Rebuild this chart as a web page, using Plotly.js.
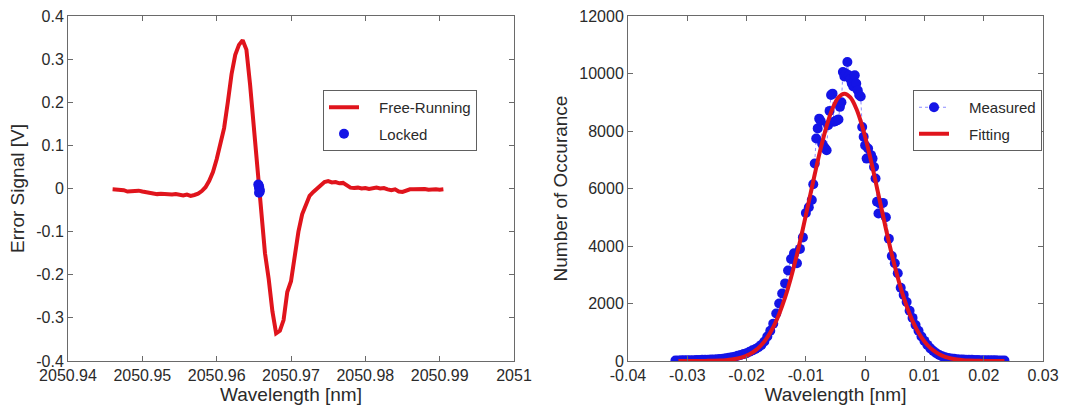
<!DOCTYPE html>
<html><head><meta charset="utf-8">
<script src="https://cdn.plot.ly/plotly-3.0.1.min.js"></script>
<style>html,body{margin:0;padding:0;background:#fff}#c{width:1091px;height:413px}</style>
</head><body><div id="c"></div>
<script>
// Left panel: error signal
const freeX = [2050.9460,2050.9465,2050.9470,2050.9475,2050.9480,2050.9485,2050.9490,2050.9495,2050.9500,2050.9505,2050.9510,2050.9515,2050.9520,2050.9525,2050.9530,2050.9535,2050.9540,2050.9545,2050.9550,2050.9555,2050.9560,2050.9565,2050.9570,2050.9575,2050.9580,2050.9585,2050.9590,2050.9595,2050.9600,2050.9605,2050.9610,2050.9615,2050.9620,2050.9625,2050.9630,2050.9635,2050.9640,2050.9645,2050.9650,2050.9655,2050.9660,2050.9665,2050.9670,2050.9675,2050.9680,2050.9685,2050.9690,2050.9695,2050.9700,2050.9705,2050.9710,2050.9715,2050.9720,2050.9725,2050.9730,2050.9735,2050.9740,2050.9745,2050.9750,2050.9755,2050.9760,2050.9765,2050.9770,2050.9775,2050.9780,2050.9785,2050.9790,2050.9795,2050.9800,2050.9805,2050.9810,2050.9815,2050.9820,2050.9825,2050.9830,2050.9835,2050.9840,2050.9845,2050.9850,2050.9855,2050.9860,2050.9865,2050.9870,2050.9875,2050.9880,2050.9885,2050.9890,2050.9895,2050.9900,2050.9905];
const freeY = [-0.002,-0.002,-0.004,-0.004,-0.007,-0.006,-0.006,-0.005,-0.007,-0.009,-0.010,-0.012,-0.013,-0.012,-0.013,-0.013,-0.014,-0.013,-0.015,-0.016,-0.014,-0.017,-0.015,-0.012,-0.006,0.003,0.018,0.038,0.068,0.100,0.140,0.200,0.265,0.310,0.333,0.344,0.322,0.240,0.140,0.030,-0.060,-0.150,-0.210,-0.285,-0.336,-0.330,-0.305,-0.240,-0.215,-0.150,-0.100,-0.060,-0.035,-0.017,-0.008,0.000,0.008,0.015,0.017,0.014,0.015,0.012,0.013,0.008,0.002,0.001,0.002,0.000,0.001,-0.001,0.001,0.002,0.000,0.001,-0.002,-0.004,-0.002,-0.007,-0.008,-0.005,-0.002,-0.002,-0.001,-0.002,-0.001,-0.003,-0.002,-0.002,-0.003,-0.002];
const lockedX = [2050.9656,2050.9657,2050.9657,2050.9658,2050.9658,2050.9657];
const lockedY = [0.009,0.005,0.001,-0.003,-0.007,-0.010];

// Right panel: histogram of wavelength
const measX = [-0.0320,-0.0315,-0.0310,-0.0305,-0.0300,-0.0295,-0.0290,-0.0285,-0.0280,-0.0275,-0.0270,-0.0265,-0.0260,-0.0255,-0.0250,-0.0245,-0.0240,-0.0235,-0.0230,-0.0225,-0.0220,-0.0215,-0.0210,-0.0205,-0.0200,-0.0195,-0.0190,-0.0185,-0.0180,-0.0175,-0.0170,-0.0165,-0.0160,-0.0155,-0.0150,-0.0145,-0.0140,-0.0135,-0.0130,-0.0125,-0.0120,-0.0115,-0.0110,-0.0105,-0.0100,-0.0095,
-0.00900,-0.00875,-0.00850,-0.00825,-0.00800,-0.00775,-0.00750,-0.00725,-0.00700,-0.00675,-0.00650,-0.00625,-0.00600,-0.00575,-0.00550,-0.00525,-0.00500,-0.00475,-0.00450,-0.00425,-0.00400,-0.00375,-0.00350,-0.00325,-0.00300,-0.00275,-0.00250,-0.00225,-0.00200,-0.00175,-0.00150,-0.00125,-0.00100,-0.00075,-0.00050,-0.00025,0.00000,0.00025,0.00050,0.00075,0.00100,0.00125,0.00150,0.00175,0.00200,0.00225,0.00250,
0.0030,0.0035,0.0040,0.0045,0.0050,0.0055,0.0060,0.0065,0.0070,0.0075,0.0080,0.0085,0.0090,0.0095,0.0100,0.0105,0.0110,0.0115,0.0120,0.0125,0.0130,0.0135,0.0140,0.0145,0.0150,0.0155,0.0160,0.0165,0.0170,0.0175,0.0180,0.0185,0.0190,0.0195,0.0200,0.0205,0.0210,0.0215,0.0220,0.0225,0.0230,0.0235];
const measY = [20,20,25,25,30,30,30,35,35,40,40,45,50,55,60,70,80,95,110,130,150,180,210,240,270,320,370,420,480,560,680,850,1050,1300,1650,2000,2350,2700,3150,3550,3750,3400,3900,4300,5150,5350,
5600,6150,6870,7740,8090,8430,8350,7560,7450,7400,7330,8200,8700,9250,9300,8320,8350,8370,8400,8840,9000,10050,9900,10000,10400,9940,9800,9650,9550,9940,9650,9420,9250,9200,8140,7800,7500,7040,7390,7050,7160,7040,6750,6350,5540,5130,5480,
5500,5000,4250,3650,3400,3050,2550,2300,2050,1750,1500,1250,1050,850,700,560,440,350,270,210,165,130,105,90,75,65,55,50,45,40,40,35,35,30,30,30,25,25,25,20,20,20];
const fitX = [-0.0315,-0.0305,-0.0295,-0.0285,-0.0275,-0.0265,-0.0255,-0.0245,-0.0235,-0.0225,-0.0215,-0.0205,-0.0195,-0.0185,-0.0175,-0.0165,-0.0155,-0.0145,-0.0135,-0.0125,-0.0115,-0.0105,-0.0095,-0.0085,-0.0075,-0.0065,-0.0055,-0.0045,-0.0035,-0.0025,-0.0015,-0.0005,0.0005,0.0015,0.0025,0.0035,0.0045,0.0055,0.0065,0.0075,0.0085,0.0095,0.0105,0.0115,0.0125,0.0135,0.0145,0.0155,0.0165,0.0175,0.0185,0.0195,0.0205,0.0215,0.0225,0.0235];
const fitY = [0,0,0,0,2,5,9,17,30,52,89,146,235,367,557,821,1176,1636,2211,2905,3709,4601,5546,6494,7391,8172,8781,9167,9300,9167,8781,8172,7391,6494,5546,4601,3709,2905,2211,1636,1176,821,557,367,235,146,89,52,30,17,9,5,2,0,0,0];

const leftXTicks = [2050.94,2050.95,2050.96,2050.97,2050.98,2050.99,2051];
const leftXLabels = ['2050.94','2050.95','2050.96','2050.97','2050.98','2050.99','2051'];
const leftYTicks = [-0.4,-0.3,-0.2,-0.1,0,0.1,0.2,0.3,0.4];
const leftYLabels = ['-0.4','-0.3','-0.2','-0.1','0','0.1','0.2','0.3','0.4'];
const rightXTicks = [-0.04,-0.03,-0.02,-0.01,0,0.01,0.02,0.03];
const rightXLabels = ['-0.04','-0.03','-0.02','-0.01','0','0.01','0.02','0.03'];
const rightYTicks = [0,2000,4000,6000,8000,10000,12000];
const rightYLabels = ['0','2000','4000','6000','8000','10000','12000'];

const RED = '#e0141c', BLUE = '#1414e6';
const FONT = 'Liberation Sans, Arial, sans-serif';
const txt = '#2a2a2a';
const SP = '\u2002\u2002';

const traces = [
  {x: freeX, y: freeY, type:'scatter', mode:'lines', name:SP+'Free-Running', legendgroup:'a',
   line:{color:RED, width:4}, xaxis:'x', yaxis:'y', legend:'legend'},
  {x: lockedX, y: lockedY, type:'scatter', mode:'markers', name:SP+'Locked', legendgroup:'b',
   marker:{color:BLUE, size:10}, xaxis:'x', yaxis:'y', legend:'legend'},
  {x: measX, y: measY, type:'scatter', mode:'lines+markers', name:SP+'Measured', legendgroup:'c',
   line:{color:'rgba(90,90,255,0.7)', width:1, dash:'dot'},
   marker:{color:BLUE, size:10}, xaxis:'x2', yaxis:'y2', legend:'legend2'},
  {x: fitX, y: fitY, type:'scatter', mode:'lines', name:SP+'Fitting', legendgroup:'d', line:{color:RED, width:4, shape:'spline'},
   xaxis:'x2', yaxis:'y2', legend:'legend2'}
];

function ax(extra){
  return Object.assign({
    showgrid:false, zeroline:false, showline:true, linecolor:'#6a6a6a', linewidth:1,
    mirror:'ticks', ticks:'inside', ticklen:5, tickcolor:'#6a6a6a',
    tickfont:{family:FONT, size:16, color:txt}, tickmode:'array'
  }, extra);
}
const titleFont = {family:FONT, size:19, color:txt};

const legendBase = {
  bgcolor:'#ffffff', bordercolor:'#606060', borderwidth:1,
  font:{family:FONT, size:15, color:txt}, xanchor:'left', yanchor:'top',
  itemwidth:30, traceorder:'grouped', tracegroupgap:4
};

const layout = {
  width:1091, height:413, paper_bgcolor:'#fff', plot_bgcolor:'#fff',
  margin:{l:0, r:0, t:16, b:52},
  showlegend:true,
  xaxis: ax({domain:[68/1091, 514/1091], range:[2050.94, 2051], tickvals:leftXTicks, ticktext:leftXLabels,
    title:{text:'Wavelength [nm]', font:titleFont, standoff:4}, anchor:'y'}),
  yaxis: ax({domain:[0,1], range:[-0.4, 0.4], tickvals:leftYTicks, ticktext:leftYLabels,
    title:{text:'Error Signal [V]', font:titleFont, standoff:6}, anchor:'x'}),
  xaxis2: ax({domain:[628/1091, 1043/1091], range:[-0.04, 0.03], tickvals:rightXTicks, ticktext:rightXLabels,
    title:{text:'Wavelength [nm]', font:titleFont, standoff:4}, anchor:'y2'}),
  yaxis2: ax({domain:[0,1], range:[0, 12000], tickvals:rightYTicks, ticktext:rightYLabels,
    title:{text:'Number of Occurance', font:titleFont, standoff:6}, anchor:'x2'}),
  legend: Object.assign({x:323/1091, y:(361-90)/345}, legendBase),
  legend2: Object.assign({x:913/1091, y:(361-90)/345}, legendBase)
};

Plotly.newPlot('c', traces, layout, {staticPlot:true, displayModeBar:false});
</script></body></html>
